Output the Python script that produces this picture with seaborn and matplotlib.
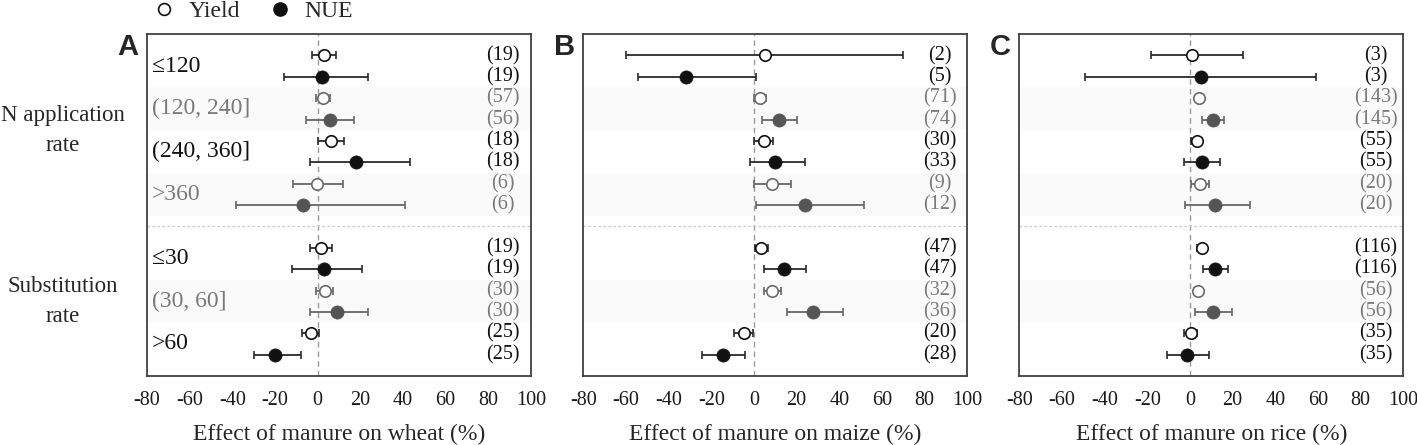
import matplotlib
matplotlib.use('Agg')
import matplotlib.pyplot as plt
from matplotlib.lines import Line2D
import numpy as np
import pandas as pd
import seaborn as sns

sns.set_style('white')
plt.rcParams['font.family'] = ['Liberation Serif', 'DejaVu Serif']
plt.rcParams['axes.unicode_minus'] = False

# categorias (duas linhas cada: Yield e NUE)
categorias = ['≤120', '(120, 240]', '(240, 360]', '>360', '≤30', '(30, 60]', '>60']
sombreado = [False, True, False, True, False, True, False]
grupos = ['N application\nrate', 'Substitution\nrate']

# trigo
wheat_yield = [3.1, 2.4, 6.3, -0.1, 1.4, 3.5, -3.2]
wheat_yield_lo = [-2.5, -0.8, 0.3, -11.4, -3.6, -0.8, -7.5]
wheat_yield_hi = [8.6, 5.8, 12.4, 12.1, 6.6, 7.4, 0.8]
wheat_nue = [2.2, 5.8, 17.8, -6.7, 3.0, 9.2, -20.0]
wheat_nue_lo = [-15.6, -5.4, -3.6, -38.3, -12.2, -3.6, -29.8]
wheat_nue_hi = [23.8, 17.2, 43.3, 41.1, 21.0, 23.5, -7.8]
wheat_n_yield = [19, 57, 18, 6, 19, 30, 25]
wheat_n_nue = [19, 56, 18, 6, 19, 30, 25]

# milho
maize_yield = [5.0, 2.9, 4.5, 8.6, 3.4, 8.4, -4.9]
maize_yield_lo = [-59.8, 0.1, 0.1, -0.2, 0.3, 4.5, -9.5]
maize_yield_hi = [69.8, 5.8, 8.9, 17.5, 6.4, 12.6, -0.5]
maize_nue = [-31.9, 11.5, 10.0, 24.0, 14.2, 27.9, -14.7]
maize_nue_lo = [-54.2, 3.7, -1.7, 1.1, 4.5, 15.5, -24.4]
maize_nue_hi = [0.8, 20.1, 23.7, 51.7, 24.3, 41.7, -4.4]
maize_n_yield = [2, 71, 30, 9, 47, 32, 20]
maize_n_nue = [5, 74, 33, 12, 47, 36, 28]

# arroz
rice_yield = [1.1, 4.4, 3.1, 4.7, 5.5, 3.6, 0.3]
rice_yield_lo = [-18.3, 2.8, 0.5, 0.3, 3.4, 1.9, -2.8]
rice_yield_hi = [25.0, 6.3, 5.5, 9.1, 7.3, 5.5, 3.4]
rice_nue = [5.0, 10.6, 5.5, 11.7, 11.7, 10.6, -1.3]
rice_nue_lo = [-49.2, 5.5, -2.7, -2.3, 6.3, 2.3, -10.6]
rice_nue_hi = [58.9, 16.1, 14.1, 28.1, 18.0, 19.8, 9.1]
rice_n_yield = [3, 143, 55, 20, 116, 56, 35]
rice_n_nue = [3, 145, 55, 20, 116, 56, 35]

culturas = {
    'wheat': (wheat_yield, wheat_yield_lo, wheat_yield_hi, wheat_nue, wheat_nue_lo, wheat_nue_hi, wheat_n_yield, wheat_n_nue),
    'maize': (maize_yield, maize_yield_lo, maize_yield_hi, maize_nue, maize_nue_lo, maize_nue_hi, maize_n_yield, maize_n_nue),
    'rice': (rice_yield, rice_yield_lo, rice_yield_hi, rice_nue, rice_nue_lo, rice_nue_hi, rice_n_yield, rice_n_nue),
}
letras = ['A', 'B', 'C']

# montar tabela longa
linhas = []
for cultura, (y, ylo, yhi, n, nlo, nhi, ny, nn) in culturas.items():
    for i, cat in enumerate(categorias):
        base = 2 * i if i < 4 else 2 * i + 1
        linhas.append(dict(crop=cultura, cat=cat, measure='Yield', pos=base, mean=y[i], lo=ylo[i], hi=yhi[i], n=ny[i], shade=sombreado[i]))
        linhas.append(dict(crop=cultura, cat=cat, measure='NUE', pos=base + 1, mean=n[i], lo=nlo[i], hi=nhi[i], n=nn[i], shade=sombreado[i]))
df = pd.DataFrame(linhas)

PRETO = '#111111'
CINZA = '#666666'
CINZA_TXT = '#7a7a7a'

fig = plt.figure(figsize=(14.17, 4.45), dpi=100)
W, H = 1417, 445
lefts = [147, 583.3, 1019.3]

for k, cultura in enumerate(culturas):
    ax = fig.add_axes([lefts[k] / W, 1 - 376 / H, 384 / W, 342 / H])
    sub = df[df['crop'] == cultura]

    # faixas sombreadas
    for i, cat in enumerate(categorias):
        if sombreado[i]:
            base = 2 * i if i < 4 else 2 * i + 1
            ax.axhspan(base - 0.5, base + 1.5, color='#fafafa', zorder=0, lw=0)
    ax.axvline(0, color='#9a9a9a', lw=1, ls=(0, (4, 3)), zorder=1)
    ax.axhline(8, color='#c8c8c8', lw=0.9, ls=(0, (2, 2)), zorder=1)

    # barras de erro
    for _, r in sub.iterrows():
        c = CINZA if r['shade'] else '#2a2a2a'
        ax.errorbar(r['mean'], r['pos'], xerr=[[r['mean'] - r['lo']], [r['hi'] - r['mean']]],
                    fmt='none', ecolor=c, elinewidth=1.3, capsize=2.8, capthick=1.2, zorder=2)
        ax.text(87, r['pos'], f"({r['n']})", ha='center', va='center', fontsize=14.5,
                color=CINZA_TXT if r['shade'] else PRETO)

    # pontos
    for shade, cor in [(False, PRETO), (True, '#555555')]:
        s_y = sub[(sub['measure'] == 'Yield') & (sub['shade'] == shade)]
        s_n = sub[(sub['measure'] == 'NUE') & (sub['shade'] == shade)]
        sns.scatterplot(data=s_y, x='mean', y='pos', ax=ax, marker='o', s=68, color='white',
                        edgecolor=PRETO if not shade else '#6a6a6a', linewidth=1.2, zorder=3, legend=False)
        sns.scatterplot(data=s_n, x='mean', y='pos', ax=ax, marker='o', s=90, color=cor,
                        edgecolor=cor, linewidth=0.5, zorder=3, legend=False)

    ax.set_xlim(-80, 100)
    ax.set_ylim(15, -1)
    ax.set_xticks(np.arange(-80, 101, 20))
    ax.set_yticks([])
    ax.set_ylabel('')
    ax.tick_params(axis='x', direction='in', length=5, width=1, pad=11, labelsize=14.5, colors='#1a1a1a')
    ax.set_xlabel(f'Effect of manure on {cultura} (%)', fontsize=17, labelpad=10)
    for sp in ax.spines.values():
        sp.set_color('#404040')
        sp.set_linewidth(1.3)

    fig.text((lefts[k] - 19) / W, 1 - 47 / H, letras[k], fontsize=21, fontweight='bold',
             family='Liberation Sans', ha='center', va='center')

    if k == 0:
        for i, cat in enumerate(categorias):
            base = 2 * i if i < 4 else 2 * i + 1
            ax.text(0.013, base + 0.5, cat, transform=ax.get_yaxis_transform(), ha='left', va='center',
                    fontsize=17, color=CINZA_TXT if sombreado[i] else PRETO)
        ax.text(-0.219, 3.5, grupos[0], transform=ax.get_yaxis_transform(), ha='center', va='center',
                fontsize=16.5, linespacing=1.55)
        ax.text(-0.219, 11.5, grupos[1], transform=ax.get_yaxis_transform(), ha='center', va='center',
                fontsize=16.5, linespacing=1.55)

# legenda
handles = [Line2D([], [], marker='o', ls='none', markersize=8.5, markerfacecolor='white',
                  markeredgecolor=PRETO, markeredgewidth=1.2, label='Yield'),
           Line2D([], [], marker='o', ls='none', markersize=9.5, markerfacecolor=PRETO,
                  markeredgecolor=PRETO, label='NUE')]
fig.legend(handles=handles, loc='center left', bbox_to_anchor=(156 / W, 1 - 11 / H), ncol=2,
           frameon=False, fontsize=17, handlelength=0.7, handletextpad=0.7, columnspacing=1.3,
           borderaxespad=0, borderpad=0)

fig.savefig('out.png', dpi=100)
